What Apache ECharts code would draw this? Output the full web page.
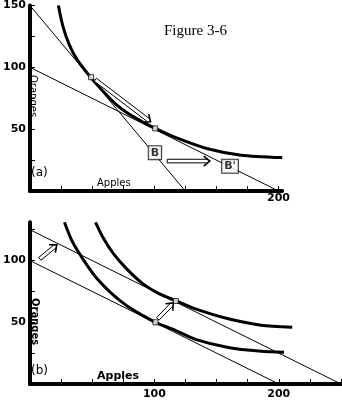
<!DOCTYPE html>
<html><head><meta charset="utf-8">
<script src="https://cdn.jsdelivr.net/npm/echarts@6/dist/echarts.min.js"></script>
<style>html,body{margin:0;padding:0;background:#fff}#c{width:342px;height:401px}</style>
</head><body><div id="c"></div>
<script>
// ---- Panel (a) data ----
const curveA = [[22.9,150],[26.3,134],[31.6,118.4],[38.1,106],[48.7,92.1],[59.2,80.3],[69.7,69.7],[80.3,61.8],[90.8,55.8],[101.3,50.5],[117,43.4],[143,34.2],[170,29],[203,27]];
const budgetA1 = [[0,150],[125,0]];
const budgetA2 = [[0,100],[200,0]];
const pointsA = [[49.2,92],[100.8,50.6]];
const arrowsA = [[52.6,90,97,56],[110.5,24.2,144.7,24.2]];
const boxPosA = [[100.6,31],[161,20]];
const boxTextA = ['B', "B'"];
const xTicksA = [25,50,75,100,125,150,175,200];
const xLabelsA = [200];
const yTicksA = [25,50,75,100,125,150];
const yLabelsA = [50,100,150];

// ---- Panel (b) data ----
const curveB1 = [[27.7,131],[33,117.6],[38.2,108.1],[46.1,95.9],[54,85.2],[64.6,74.3],[77.7,63.5],[90.9,55.4],[100.9,50],[117.2,43.3],[133,36.2],[159.4,29.6],[185.8,26.5],[204.2,25.7]];
const curveB2 = [[52.7,131],[59.3,117.6],[67.2,105.4],[77.7,93.3],[90.9,81.1],[104.1,73],[117.2,67.5],[133,60.8],[159.4,52.8],[185.8,47.6],[210.8,46]];
const budgetB1 = [[0,100],[200,0]];
const budgetB2 = [[0,125],[250,0]];
const pointsB = [[100.9,50],[117.2,67.3]];
const arrowsB = [[7.9,101.4,21.6,112.7],[102.8,52.8,115.2,65.7]];
const xTicksB = [25,50,75,100,125,150,175,200,225,250];
const xLabelsB = [100,200];
const yTicksB = [25,50,75,100,125];
const yLabelsB = [50,100];

const chart = echarts.init(document.getElementById('c'), null, {renderer:'canvas'});

function renderArrow(params, api) {
  const a = api.coord([api.value(0), api.value(1)]);
  const b = api.coord([api.value(2), api.value(3)]);
  const dx = b[0]-a[0], dy = b[1]-a[1], L = Math.hypot(dx, dy);
  const ux = dx/L, uy = dy/L, nx = -uy, ny = ux;
  const w = 1.8, hb = 6, hw = 5;
  const s = [b[0]-ux*2.5, b[1]-uy*2.5];
  return {type:'group', children:[
    {type:'polygon', shape:{points:[[a[0]+nx*w,a[1]+ny*w],[s[0]+nx*w,s[1]+ny*w],[s[0]-nx*w,s[1]-ny*w],[a[0]-nx*w,a[1]-ny*w]]}, style:{fill:'#fff', stroke:null}},
    {type:'polyline', shape:{points:[[s[0]+nx*w,s[1]+ny*w],[a[0]+nx*w,a[1]+ny*w],[a[0]-nx*w,a[1]-ny*w],[s[0]-nx*w,s[1]-ny*w]]}, style:{fill:null, stroke:'#000', lineWidth:1}},
    {type:'polyline', shape:{points:[[b[0]-ux*hb+nx*hw,b[1]-uy*hb+ny*hw],[b[0],b[1]],[b[0]-ux*hb-nx*hw,b[1]-uy*hb-ny*hw]]}, style:{fill:null, stroke:'#000', lineWidth:1.6}}
  ]};
}

const tickFont = {fontFamily:'DejaVu Sans', fontWeight:'bold', fontSize:11, color:'#000'};
function xAxisCfg(idx, max, ticks, labels) {
  return {type:'value', gridIndex:idx, min:0, max:max, splitLine:{show:false},
    axisLine:{show:true, lineStyle:{color:'#000', width:4}},
    axisTick:{show:true, inside:true, length:5, customValues:ticks, lineStyle:{color:'#000', width:1}},
    axisLabel:Object.assign({show:true, customValues:labels, margin:idx===0?2:5}, tickFont)};
}
function yAxisCfg(idx, max, ticks, labels) {
  return {type:'value', gridIndex:idx, min:0, max:max, splitLine:{show:false},
    axisLine:{show:true, lineStyle:{color:'#000', width:4}},
    axisTick:{show:true, inside:true, length:5, customValues:ticks, lineStyle:{color:'#000', width:1}},
    axisLabel:Object.assign({show:true, customValues:labels, margin:4}, tickFont)};
}
function lineSeries(idx, data, width) {
  return {type:'line', xAxisIndex:idx, yAxisIndex:idx, data:data, showSymbol:false, symbol:'none',
    smooth: width > 1 ? 0.25 : false, lineStyle:{color:'#000', width:width}, silent:true, animation:false, z:width>1?3:2};
}
function pointSeries(idx, data) {
  return {type:'scatter', xAxisIndex:idx, yAxisIndex:idx, data:data, symbol:'rect', symbolSize:5,
    itemStyle:{color:'#fff', borderColor:'#000', borderWidth:1}, z:6, animation:false};
}
function arrowSeries(idx, data) {
  return {type:'custom', xAxisIndex:idx, yAxisIndex:idx, data:data, renderItem:renderArrow,
    encode:{x:[0,2], y:[1,3]}, z:7, animation:false, clip:false};
}

chart.setOption({
  animation:false,
  backgroundColor:'#fff',
  grid:[
    {left:25, top:1, width:257.2, height:190},
    {left:25, top:222.3, width:316, height:161.7}
  ],
  xAxis:[xAxisCfg(0, 203, xTicksA, xLabelsA), xAxisCfg(1, 250, xTicksB, xLabelsB)],
  yAxis:[yAxisCfg(0, 150, yTicksA, yLabelsA), yAxisCfg(1, 131, yTicksB, yLabelsB)],
  series:[
    lineSeries(0, curveA, 3),
    lineSeries(0, budgetA1, 1),
    lineSeries(0, budgetA2, 1),
    pointSeries(0, pointsA),
    arrowSeries(0, arrowsA),
    {type:'scatter', xAxisIndex:0, yAxisIndex:0, data:boxPosA.map((p,i)=>[p[0],p[1],boxTextA[i]]),
      symbolSize:1, itemStyle:{color:'rgba(0,0,0,0)'}, z:8,
      label:{show:true, position:'inside', formatter:p=>p.value[2], fontFamily:'DejaVu Sans', fontWeight:'bold', fontSize:11,
        color:'#000', backgroundColor:'#fff', borderColor:'#000', borderWidth:1, padding:[2,2,0,2]}},
    lineSeries(1, curveB1, 3),
    lineSeries(1, curveB2, 3),
    lineSeries(1, budgetB1, 1),
    lineSeries(1, budgetB2, 1),
    pointSeries(1, pointsB),
    arrowSeries(1, arrowsB)
  ],
  graphic:[
    {type:'text', left:164, top:24, style:{text:'Figure 3-6', font:'15px "Liberation Serif"', fill:'#000'}},
    {type:'text', left:31, top:167, style:{text:'(a)', font:'12px "DejaVu Sans"', fill:'#000'}},
    {type:'text', left:97, top:178, style:{text:'Apples', font:'10px "DejaVu Sans"', fill:'#000'}},
    {type:'text', x:38, y:75, rotation:-Math.PI/2, style:{text:'Oranges', font:'10px "DejaVu Sans"', fill:'#000'}},
    {type:'text', left:31, top:365, style:{text:'(b)', font:'12px "DejaVu Sans"', fill:'#000'}},
    {type:'text', left:97, top:371, style:{text:'Apples', font:'bold 11px "DejaVu Sans"', fill:'#000'}},
    {type:'text', x:40, y:298, rotation:-Math.PI/2, style:{text:'Oranges', font:'bold 10px "DejaVu Sans"', fill:'#000'}}
  ]
});
</script>
</body></html>
